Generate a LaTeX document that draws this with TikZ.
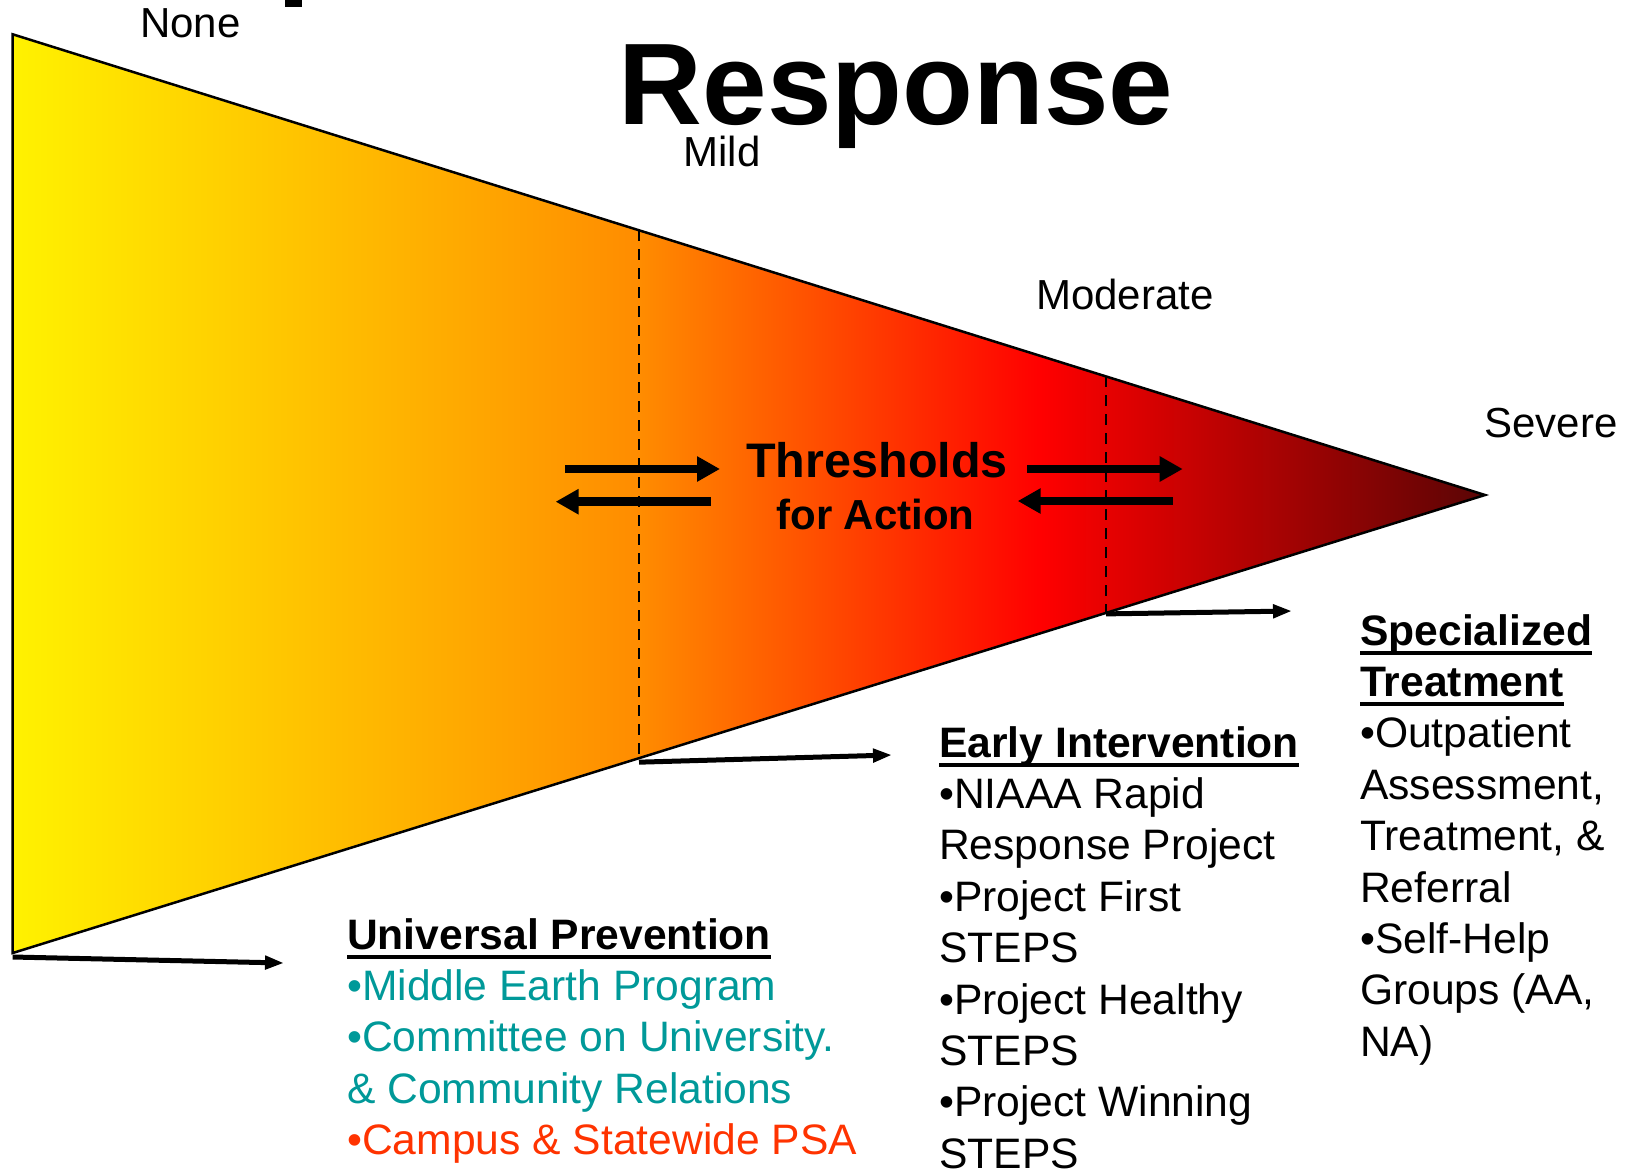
\documentclass[tikz,border=0pt]{standalone}
\usepackage{fontspec}
\setmainfont{Liberation Sans}
\usetikzlibrary{arrows.meta,calc}

% colours of the cone and of the programme lists
\definecolor{coneY}{RGB}{255,242,0}
\definecolor{coneO}{RGB}{255,140,0}
\definecolor{coneR}{RGB}{255,0,0}
\definecolor{coneD}{RGB}{90,5,5}
\definecolor{tealtxt}{RGB}{0,153,153}
\definecolor{redtxt}{RGB}{255,51,0}

% left-to-right colour ramp of the cone (25bp..75bp spans the path)
\pgfdeclarehorizontalshading{conegrad}{100bp}{%
  color(0bp)=(coneY); color(25bp)=(coneY); color(46.3bp)=(coneO);
  color(59.9bp)=(coneR); color(75bp)=(coneD); color(100bp)=(coneD)}

% bold heading with a heavy underline
\newcommand{\hdline}[1]{\setbox0=\hbox{\bfseries #1}\rlap{\rule[-10pt]{\wd0}{4.5pt}}\box0}

\tikzset{
  lbl/.style={font=\fontsize{42}{50}\selectfont, inner sep=0pt, anchor=base},
  block/.style={font=\fontsize{42.6}{51.4}\selectfont, inner sep=0pt, anchor=base west},
  bigarrow/.style={line width=8.5pt, -{Triangle[length=23pt,width=24pt]}},
  pointer/.style={line width=5pt, -{Triangle[length=19pt,width=13pt]}},
  threshold/.style={draw=black, line width=2.2pt, dash pattern=on 11pt off 8pt},
}

\begin{document}
\begin{tikzpicture}[x=1pt,y=-1pt]
\useasboundingbox (0,0) rectangle (1629,1168);

% bit of a glyph from a line above the top edge
\fill[black] (285,0) rectangle (301.5,6.5);

% the cone
\coordinate (tl) at (12.7,34.3);
\coordinate (bl) at (12.7,953);
\coordinate (apex) at (1485,495);
\shadedraw[shading=conegrad, draw=black, line width=2.5pt, line join=miter]
  (tl) -- (apex) -- (bl) -- cycle;

% threshold lines
\coordinate (d1t) at ($(tl)!0.4254!(apex)$);
\coordinate (d1b) at ($(bl)!0.4254!(apex)$);
\coordinate (d2t) at ($(tl)!0.7426!(apex)$);
\coordinate (d2b) at ($(bl)!0.7426!(apex)$);
\draw[threshold] (d1t) -- (d1b);
\draw[threshold] (d2t) -- (d2b);

% title and severity labels
\node[font=\fontsize{116}{130}\selectfont\bfseries, inner sep=0pt, anchor=base] (title) at (896,124) {Response};
\node[lbl] (none) at (190.5,37.7) {None};
\node[lbl] (mild) at (722,166) {Mild};
\node[lbl] (moderate) at (1125,309) {Moderate};
\node[lbl] (severe) at (1551,437) {Severe};

% thresholds for action
\node[font=\fontsize{48.5}{55}\selectfont\bfseries, inner sep=0pt, anchor=base] (thr) at (877,477) {Thresholds};
\node[font=\fontsize{42}{50}\selectfont\bfseries, inner sep=0pt, anchor=base] (act) at (875.5,529) {for Action};

\coordinate (a1s) at (565,469);   \coordinate (a1e) at (720,469);
\coordinate (a2s) at (710.5,501.7); \coordinate (a2e) at (555.6,501.7);
\coordinate (a3s) at (1027,469);  \coordinate (a3e) at (1182.7,469);
\coordinate (a4s) at (1172.6,501); \coordinate (a4e) at (1017.7,501);
\draw[bigarrow] (a1s) -- (a1e);
\draw[bigarrow] (a2s) -- (a2e);
\draw[bigarrow] (a3s) -- (a3e);
\draw[bigarrow] (a4s) -- (a4e);

% pointers to the three levels of response
\coordinate (p1) at (284,963);
\coordinate (p2) at (892,755);
\coordinate (p3) at (1292,611);
\draw[pointer] ([yshift=-4pt]bl) -- (p1);
\draw[pointer] ([yshift=-4pt]d1b) -- (p2);
\draw[pointer] ([yshift=-1pt]d2b) -- (p3);

% programme lists
\node[block] (univ) at (347,949) {\begin{tabular}[t]{@{}l@{}}
\hdline{Universal Prevention}\\
\color{tealtxt}•Middle Earth Program\\
\color{tealtxt}•Committee on University.\\
\color{tealtxt}\& Community Relations\\
\color{redtxt}•Campus \& Statewide PSA
\end{tabular}};

\node[block] (early) at (939,757) {\begin{tabular}[t]{@{}l@{}}
\hdline{Early Intervention}\\
•NIAAA Rapid\\
Response Project\\
•Project First\\
STEPS\\
•Project Healthy\\
STEPS\\
•Project Winning\\
STEPS
\end{tabular}};

\node[block] (spec) at (1360,645) {\begin{tabular}[t]{@{}l@{}}
\hdline{Specialized}\\
\hdline{Treatment}\\
•Outpatient\\
Assessment,\\
Treatment, \&\\
Referral\\
•Self-Help\\
Groups (AA,\\
NA)
\end{tabular}};
\end{tikzpicture}
\end{document}
